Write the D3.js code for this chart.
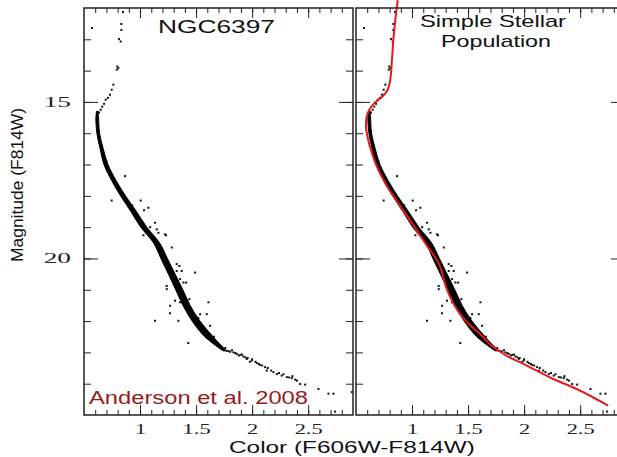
<!DOCTYPE html>
<html>
<head>
<meta charset="utf-8">
<script src="https://cdn.jsdelivr.net/npm/d3@7"></script>
<style>
  body { margin: 0; background: #fff; }
  svg text { font-family: "Liberation Sans", Arial, sans-serif; }
</style>
</head>
<body>
<svg id="chart" width="617" height="457"></svg>
<script>
// values

let colorTicks = [1, 1.5, 2, 2.5];
let magTicks = [15, 20];

// dense main sequence band: magnitude, blue edge, red edge
let bandMag  = [15.3, 15.5, 16.0, 16.5, 17.0, 17.5, 18.0, 18.5, 19.0, 19.5, 20.0, 20.5, 21.0, 21.5, 22.0, 22.5, 22.95];
let bandBlue = [0.612, 0.606, 0.615, 0.644, 0.678, 0.745, 0.826, 0.918, 1.006, 1.12, 1.186, 1.253, 1.318, 1.383, 1.465, 1.578, 1.74];
let bandRed  = [0.628, 0.630, 0.639, 0.672, 0.714, 0.785, 0.87, 0.968, 1.06, 1.174, 1.244, 1.313, 1.382, 1.447, 1.535, 1.652, 1.77];

// subgiant / giant stars above the turnoff
let sgbStars = [
  [0.848, 12.13], [0.571, 12.64], [0.833, 12.51], [0.833, 12.70], [0.813, 12.99], [0.827, 13.07],
  [0.797, 13.87], [0.792, 13.97], [0.806, 13.92], [0.762, 14.45], [0.747, 14.61], [0.732, 14.77],
  [0.714, 14.87], [0.694, 14.93], [0.679, 15.06], [0.663, 15.15], [0.649, 15.25], [0.634, 15.34],
  [0.619, 15.47]
];

// faint end of the main sequence
let tailStars = [
  [1.70, 22.80], [1.714, 22.84], [1.744, 22.89], [1.76, 22.86], [1.774, 22.95], [1.79, 22.96],
  [1.804, 22.98], [1.82, 22.93], [1.833, 23.0], [1.85, 23.02], [1.863, 23.05], [1.88, 23.10],
  [1.893, 23.08], [1.91, 23.07], [1.922, 23.13], [1.94, 23.16], [1.952, 23.21], [1.96, 23.18],
  [1.98, 23.30], [1.997, 23.26], [2.0, 23.22], [2.03, 23.30], [2.042, 23.34], [2.06, 23.37],
  [2.071, 23.40], [2.09, 23.42], [2.116, 23.47], [2.131, 23.58], [2.14, 23.50], [2.17, 23.58],
  [2.19, 23.63], [2.22, 23.69], [2.24, 23.66], [2.264, 23.74], [2.28, 23.70], [2.31, 23.79],
  [2.33, 23.80], [2.354, 23.82], [2.36, 23.76], [2.384, 23.87], [2.40, 23.90], [2.429, 24.01],
  [2.473, 24.03], [2.592, 24.17], [2.681, 24.32], [2.726, 24.32], [2.89, 24.27], [2.74, 24.89]
];

// scattered stars off the sequence
let fieldStars = [
  [0.866, 17.37], [0.747, 18.15], [1.006, 18.15], [1.036, 18.46], [1.074, 18.38], [1.134, 18.86],
  [1.149, 19.07], [1.164, 19.18], [1.223, 19.23], [1.03, 19.26], [1.232, 19.26], [1.283, 19.65],
  [1.327, 20.18], [1.351, 20.24], [1.491, 20.45], [1.327, 20.40], [1.357, 20.66], [1.387, 20.77],
  [1.238, 20.88], [1.238, 20.98], [1.312, 21.35], [1.357, 21.40], [1.61, 21.40], [1.268, 21.51],
  [1.268, 21.75], [1.536, 21.78], [1.595, 21.78], [1.134, 21.99], [1.342, 21.99], [1.431, 22.70],
  [1.625, 22.15], [1.372, 20.40], [1.411, 20.77], [0.70, 16.9], [0.78, 17.6], [0.93, 18.3],
  [1.09, 19.0], [1.17, 19.6], [1.30, 20.6], [1.44, 21.3], [1.52, 21.9], [1.66, 22.5]
];

// isochrone of the simple stellar population
let isoColor = [0.872, 0.851, 0.833, 0.821, 0.806, 0.783, 0.738, 0.663, 0.619, 0.596, 0.589, 0.596,
  0.619, 0.679, 0.768, 0.884, 1.006, 1.125, 1.241, 1.31, 1.399, 1.509, 1.607, 1.712, 1.845, 2.024,
  2.259, 2.47, 2.75];
let isoMag = [11.75, 12.38, 13.02, 13.66, 14.29, 14.61, 14.82, 15.04, 15.25, 15.46, 15.78, 15.98,
  16.36, 17.0, 17.64, 18.27, 18.91, 19.55, 20.18, 20.98, 21.62, 22.10, 22.41, 22.79, 23.11, 23.42,
  23.85, 24.17, 24.70];

let svg = d3.select('#chart');

let x = d3.scaleLinear().domain([0.5, 2.9]).range([0, 269]);
let y = d3.scaleLinear().domain([12, 25]).range([8, 415]);

let colorMinor = d3.range(0.6, 2.85, 0.1);
let magMinor = d3.range(13, 25, 1);

// stretch text horizontally like the original figure
let stretch = (sel, k) => {
  sel.each(function () {
    let w = this.getComputedTextLength();
    d3.select(this).attr('textLength', w * k).attr('lengthAdjust', 'spacingAndGlyphs');
  });
};

let drawPanel = (left, showLabels, showIso) => {
  let g = svg.append('g').attr('transform', 'translate(' + left + ',0)');

  let band = d3.area()
    .y((d, i) => y(bandMag[i]))
    .x0((d, i) => x(bandBlue[i]))
    .x1((d, i) => x(bandRed[i]))
    .curve(d3.curveCatmullRom);

  g.append('path')
    .datum(bandMag)
    .attr('d', band)
    .attr('fill', '#000')
    .attr('stroke', '#000')
    .attr('stroke-width', 1);

  let stars = sgbStars.concat(tailStars, fieldStars);
  g.selectAll('rect.star')
    .data(stars)
    .enter()
    .append('rect')
    .attr('class', 'star')
    .attr('x', (d) => x(d[0]) - 1)
    .attr('y', (d) => y(d[1]) - 1)
    .attr('width', 2)
    .attr('height', 2)
    .attr('fill', '#111');

  if (showIso) {
    let line = d3.line()
      .x((d, i) => x(isoColor[i]))
      .y((d, i) => y(isoMag[i]))
      .curve(d3.curveCatmullRom);
    g.append('path')
      .datum(isoMag)
      .attr('d', line)
      .attr('fill', 'none')
      .attr('stroke', '#e8191c')
      .attr('stroke-width', 2);
  }

  let axisStyle = (a) => {
    a.select('.domain').remove();
    a.selectAll('line').attr('stroke', '#222');
  };

  // minor ticks
  g.append('g').attr('transform', 'translate(0,415)')
    .call(d3.axisBottom(x).tickValues(colorMinor).tickSizeInner(-5).tickSizeOuter(0).tickFormat(''))
    .call(axisStyle);
  g.append('g').attr('transform', 'translate(0,8)')
    .call(d3.axisTop(x).tickValues(colorMinor).tickSizeInner(-5).tickSizeOuter(0).tickFormat(''))
    .call(axisStyle);
  g.append('g')
    .call(d3.axisLeft(y).tickValues(magMinor).tickSizeInner(-7).tickSizeOuter(0).tickFormat(''))
    .call(axisStyle);
  g.append('g').attr('transform', 'translate(269,0)')
    .call(d3.axisRight(y).tickValues(magMinor).tickSizeInner(-7).tickSizeOuter(0).tickFormat(''))
    .call(axisStyle);

  // major ticks
  let bottom = g.append('g').attr('transform', 'translate(0,415)')
    .call(d3.axisBottom(x).tickValues(colorTicks).tickSizeInner(-10).tickSizeOuter(0).tickPadding(9).tickFormat(d3.format('')))
    .call(axisStyle);
  bottom.selectAll('text')
    .attr('fill', '#222')
    .style('font-family', '"Liberation Serif", serif')
    .style('font-size', '14px')
    .call(stretch, 1.6);

  g.append('g').attr('transform', 'translate(0,8)')
    .call(d3.axisTop(x).tickValues(colorTicks).tickSizeInner(-10).tickSizeOuter(0).tickFormat(''))
    .call(axisStyle);

  let leftAxis = g.append('g')
    .call(d3.axisLeft(y).tickValues(magTicks).tickSizeInner(-14).tickSizeOuter(0).tickPadding(13)
      .tickFormat(showLabels ? d3.format('') : ''))
    .call(axisStyle);
  leftAxis.selectAll('text')
    .attr('fill', '#222')
    .style('font-family', '"Liberation Serif", serif')
    .style('font-size', '14px')
    .call(stretch, 1.95);

  g.append('g').attr('transform', 'translate(269,0)')
    .call(d3.axisRight(y).tickValues(magTicks).tickSizeInner(-14).tickSizeOuter(0).tickFormat(''))
    .call(axisStyle);

  g.append('rect')
    .attr('x', 0)
    .attr('y', 8)
    .attr('width', 269)
    .attr('height', 407)
    .attr('fill', 'none')
    .attr('stroke', '#222')
    .attr('stroke-width', 1.5);

  return g;
};

let leftPanel = drawPanel(84, true, false);
let rightPanel = drawPanel(356, false, true);

// titles and labels
svg.append('text')
  .text('NGC6397')
  .attr('x', 216.5).attr('y', 33)
  .attr('text-anchor', 'middle')
  .attr('font-size', 18)
  .attr('fill', '#111')
  .attr('textLength', 117).attr('lengthAdjust', 'spacingAndGlyphs');

svg.append('text')
  .text('Simple Stellar')
  .attr('x', 493).attr('y', 27)
  .attr('text-anchor', 'middle')
  .attr('font-size', 17)
  .attr('fill', '#111')
  .attr('textLength', 146).attr('lengthAdjust', 'spacingAndGlyphs');

svg.append('text')
  .text('Population')
  .attr('x', 496).attr('y', 46.5)
  .attr('text-anchor', 'middle')
  .attr('font-size', 17)
  .attr('fill', '#111')
  .attr('textLength', 110).attr('lengthAdjust', 'spacingAndGlyphs');

svg.append('text')
  .text('Anderson et al. 2008')
  .attr('x', 89).attr('y', 404)
  .attr('font-size', 17.5)
  .attr('fill', '#961b1b')
  .attr('textLength', 219).attr('lengthAdjust', 'spacingAndGlyphs');

svg.append('text')
  .text('Color (F606W-F814W)')
  .attr('x', 229).attr('y', 453)
  .attr('font-size', 16.5)
  .attr('fill', '#111')
  .attr('textLength', 246).attr('lengthAdjust', 'spacingAndGlyphs');

svg.append('text')
  .text('Magnitude (F814W)')
  .attr('transform', 'translate(22.5,185) rotate(-90)')
  .attr('text-anchor', 'middle')
  .attr('font-size', 17)
  .attr('fill', '#111')
  .attr('textLength', 154).attr('lengthAdjust', 'spacingAndGlyphs');
</script>
</body>
</html>
